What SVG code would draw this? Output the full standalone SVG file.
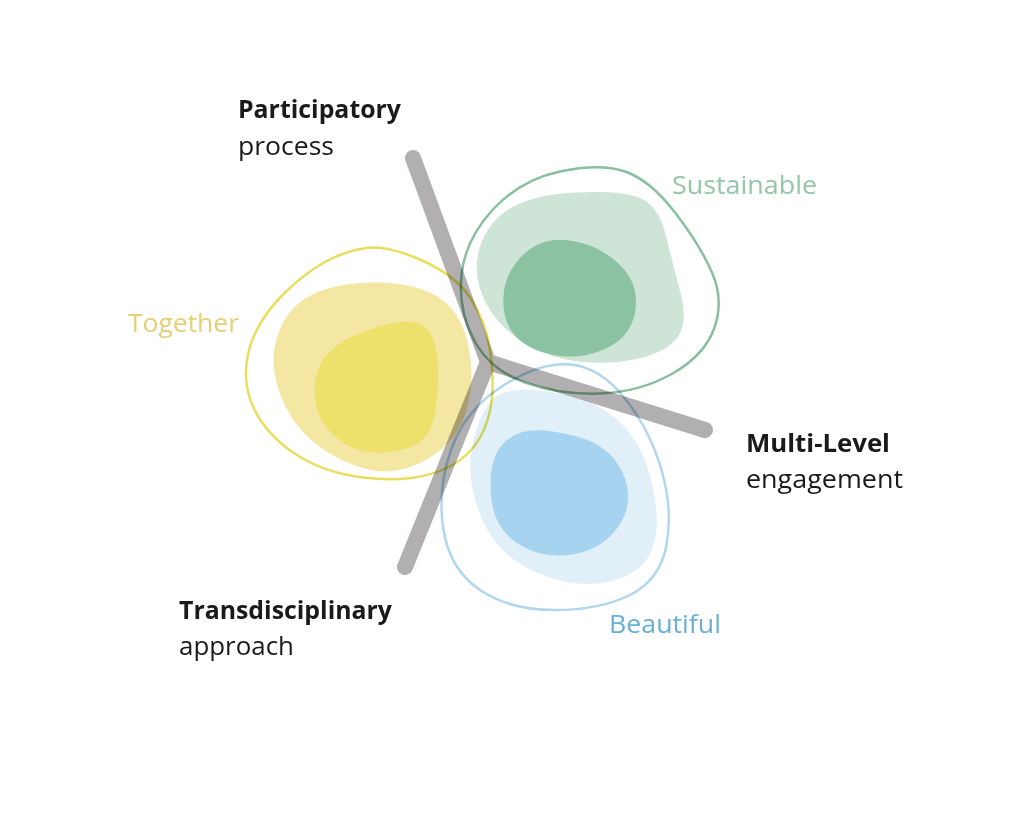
<svg xmlns="http://www.w3.org/2000/svg" width="1020" height="816" viewBox="0 0 1020 816">
<style>
.lbl{font-family:"Open Sans","Noto Sans",sans-serif;font-size:25px;fill:#1a1a1a}
.b{font-weight:700}
.blob{mix-blend-mode:multiply}
.ol{fill:none;stroke-width:2.5}
</style>
<rect width="1020" height="816" fill="#ffffff"/>
<g id="connectors">
<path d="M413,158 L488,362 L705,430 M488,362 L405,567" fill="none" stroke="#b1afaf" stroke-width="16" stroke-linecap="round" stroke-linejoin="miter"/>
</g>
<g id="together" class="blob">
<path fill="#f3e7a3" d="M343.5,285 Q387,278 421,289 Q455,300 465.5,335 Q476,370 468,405 Q460,440 427.5,459 Q395,478 362.5,468 Q330,458 307.5,436.5 Q285,415 276.5,382.5 Q268,350 284,321 Q300,292 343.5,285 Z"/>
<path fill="#ede06b" d="M419,323.5 Q438,330 438,375 Q438,420 426.5,435 Q415,450 385,452.5 Q355,455 333.5,435 Q312,415 315,382.5 Q318,350 359,333.5 Q400,317 419,323.5 Z"/>
<path class="ol" stroke="#e9de5e" d="M421,260 Q455,275 470,297.5 Q485,320 489.5,347.5 Q494,375 492,397.5 Q490,420 480,437.5 Q470,455 452.5,465 Q435,475 411,478 Q387,481 356,476.5 Q325,472 300,457 Q275,442 261,421 Q247,400 246,377.5 Q245,355 255,333.5 Q265,312 285,292.5 Q305,273 325,262 Q345,251 366,248 Q387,245 421,260 Z"/>
<text class="lbl" x="128" y="332" fill="#e6d075" style="fill:#e6d075" textLength="111" lengthAdjust="spacingAndGlyphs">Together</text>
</g>
<g id="sustainable" class="blob">
<path fill="#cde4d6" d="M575,192.5 Q620,190 639,197.5 Q658,205 665,232.5 Q672,260 681,295 Q690,330 670,345 Q650,360 610,362.5 Q570,365 537.5,350 Q505,335 488.5,307.5 Q472,280 478.5,252.5 Q485,225 507.5,210 Q530,195 575,192.5 Z"/>
<path fill="#8bc3a2" d="M570,240.5 Q600,245 620,265 Q640,285 635,312.5 Q630,340 600,351 Q570,362 539,351 Q508,340 504,310 Q500,280 520,258 Q540,236 570,240.5 Z"/>
<path class="ol" stroke="#88bfa0" d="M560,171.5 Q600,163 625,171.5 Q650,180 675,212.5 Q700,245 712,272.5 Q724,300 714.5,327.5 Q705,355 672.5,373.5 Q640,392 600,393.5 Q560,395 525,382.5 Q490,370 474,340 Q458,310 461.5,275 Q465,240 492.5,210 Q520,180 560,171.5 Z"/>
<text class="lbl" x="672" y="194" style="fill:#93c7a7" textLength="145" lengthAdjust="spacingAndGlyphs">Sustainable</text>
</g>
<g id="beautiful" class="blob">
<path fill="#e1eff9" d="M555,392.5 Q600,400 625,427.5 Q650,455 656,507.5 Q662,560 626,576 Q590,592 545,576 Q500,560 482.5,520 Q465,480 472.5,445 Q480,410 495,397.5 Q510,385 555,392.5 Z"/>
<path fill="#a6d3ef" d="M575,436 Q610,445 622.5,472.5 Q635,500 620,524 Q605,548 575,554 Q545,560 520,545 Q495,530 491.5,500 Q488,470 496.5,453.5 Q505,437 522.5,432 Q540,427 575,436 Z"/>
<path class="ol" stroke="#b0d7ed" d="M570,364.5 Q600,367 625,398.5 Q650,430 661.5,470 Q673,510 666.5,545 Q660,580 630,595 Q600,610 555,610 Q510,610 480,590 Q450,570 443.5,530 Q437,490 451,450 Q465,410 502.5,386 Q540,362 570,364.5 Z"/>
<text class="lbl" x="609" y="633" style="fill:#6aafd5" textLength="112" lengthAdjust="spacingAndGlyphs">Beautiful</text>
</g>
<g id="participatory">
<text class="lbl b" x="238" y="118" textLength="163" lengthAdjust="spacingAndGlyphs">Participatory</text>
<text class="lbl" x="238" y="155" textLength="96" lengthAdjust="spacingAndGlyphs">process</text>
</g>
<g id="multilevel">
<text class="lbl b" x="746" y="452" textLength="144" lengthAdjust="spacingAndGlyphs">Multi-Level</text>
<text class="lbl" x="746" y="488" textLength="157" lengthAdjust="spacingAndGlyphs">engagement</text>
</g>
<g id="transdisciplinary">
<text class="lbl b" x="179" y="619" textLength="213" lengthAdjust="spacingAndGlyphs">Transdisciplinary</text>
<text class="lbl" x="179" y="655" textLength="115" lengthAdjust="spacingAndGlyphs">approach</text>
</g>
</svg>
